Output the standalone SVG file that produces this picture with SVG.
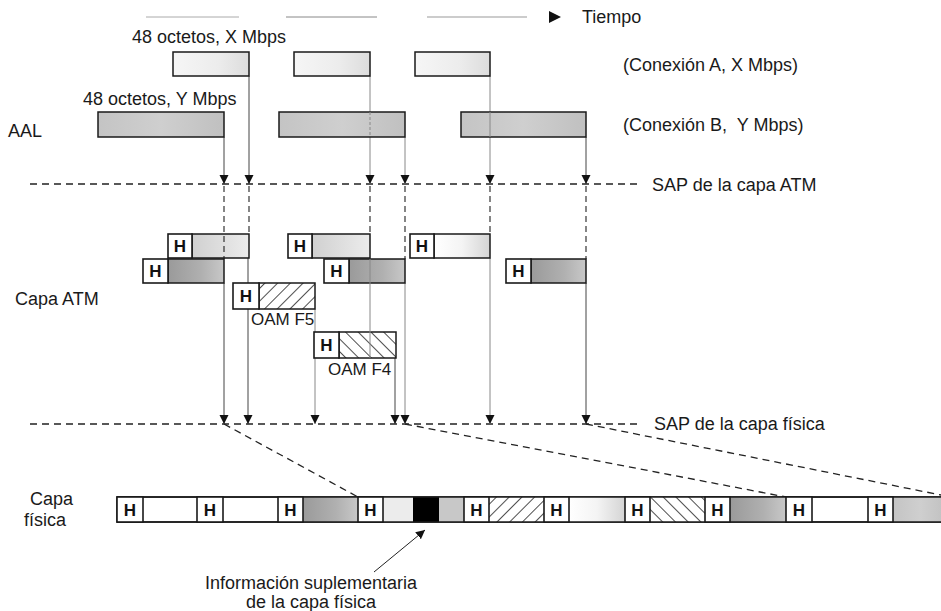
<svg xmlns="http://www.w3.org/2000/svg" width="941" height="611" viewBox="0 0 941 611">
<style>
.t{font-family:"Liberation Sans",Arial,sans-serif;font-size:18px;fill:#1a1a1a}
.h{font-family:"Liberation Sans",Arial,sans-serif;font-size:17px;font-weight:bold;text-anchor:middle;fill:#111}
.b{stroke:#1a1a1a;stroke-width:1.5}
.hb{fill:#fff;stroke:#1a1a1a;stroke-width:1.6}
.v{stroke:#444;stroke-width:1;fill:none}
.vg{stroke:#888;stroke-width:1;fill:none}
.vd{stroke:#222;stroke-width:1.1;stroke-dasharray:6 4;fill:none}
.d{stroke:#222;stroke-width:1.3;stroke-dasharray:7 5;fill:none}
</style>
<defs>
<marker id="ar" markerUnits="userSpaceOnUse" markerWidth="10" markerHeight="10" refX="9" refY="4.5" orient="auto"><path d="M0,0 L9,4.5 L0,9 z" fill="#111"/></marker>
<linearGradient id="gA"><stop offset="0" stop-color="#f6f6f6"/><stop offset="0.6" stop-color="#ececec"/><stop offset="1" stop-color="#dcdcdc"/></linearGradient>
<linearGradient id="gB"><stop offset="0" stop-color="#c4c4c4"/><stop offset="0.5" stop-color="#cfcfcf"/><stop offset="1" stop-color="#c0c0c0"/></linearGradient>
<linearGradient id="gAc"><stop offset="0" stop-color="#d0d0d0"/><stop offset="1" stop-color="#ececec"/></linearGradient>
<linearGradient id="gAw"><stop offset="0" stop-color="#ffffff"/><stop offset="0.5" stop-color="#f4f4f4"/><stop offset="1" stop-color="#d4d4d4"/></linearGradient>
<linearGradient id="gBc"><stop offset="0" stop-color="#9a9a9a"/><stop offset="0.6" stop-color="#b0b0b0"/><stop offset="1" stop-color="#c8c8c8"/></linearGradient>
<pattern id="hf" patternUnits="userSpaceOnUse" width="9" height="9" patternTransform="rotate(45)"><rect width="9" height="9" fill="#fff"/><line x1="0" y1="0" x2="0" y2="9" stroke="#222" stroke-width="1.6"/></pattern>
<pattern id="hr" patternUnits="userSpaceOnUse" width="9" height="9" patternTransform="rotate(-45)"><rect width="9" height="9" fill="#fff"/><line x1="0" y1="0" x2="0" y2="9" stroke="#222" stroke-width="1.6"/></pattern>
</defs>

<g id="time-axis">
<line x1="146" y1="17" x2="239" y2="17" stroke="#aaa" stroke-width="1"/>
<line x1="286" y1="17" x2="377" y2="17" stroke="#888" stroke-width="1"/>
<line x1="427" y1="17" x2="527" y2="17" stroke="#999" stroke-width="1"/>
<path d="M549,11 L561,17 L549,23 z" fill="#111"/>
<text class="t" x="582" y="23">Tiempo</text>
</g>

<g id="labels">
<text class="t" x="132" y="43">48 octetos, X Mbps</text>
<text class="t" x="83" y="105">48 octetos, Y Mbps</text>
<text class="t" x="8" y="137">AAL</text>
<text class="t" x="623" y="71">(Conexión A, X Mbps)</text>
<text class="t" x="623" y="131" xml:space="preserve" style="white-space:pre">(Conexión B,  Y Mbps)</text>
<text class="t" x="652" y="191">SAP de la capa ATM</text>
<text class="t" x="15" y="305">Capa ATM</text>
<text class="t" x="654" y="430">SAP de la capa física</text>
<text class="t" x="30" y="505">Capa</text>
<text class="t" x="24" y="526">física</text>
<text class="t" x="311" y="589" text-anchor="middle">Información suplementaria</text>
<text class="t" x="311" y="608" text-anchor="middle">de la capa física</text>
</g>

<g id="connectors">
<line class="d" x1="30" y1="184" x2="640" y2="184"/>
<line class="d" x1="30" y1="424" x2="640" y2="424"/>
<line class="v" x1="224" y1="137" x2="224" y2="184" marker-end="url(#ar)"/>
<line class="v" x1="249" y1="76" x2="249" y2="184" marker-end="url(#ar)"/>
<line class="vg" x1="370" y1="76" x2="370" y2="184" marker-end="url(#ar)"/>
<line class="vg" x1="405" y1="137" x2="405" y2="184" marker-end="url(#ar)"/>
<line class="vg" x1="490" y1="76" x2="490" y2="184" marker-end="url(#ar)"/>
<line class="v" x1="586" y1="137" x2="586" y2="184" marker-end="url(#ar)"/>
<line class="vd" x1="224" y1="186" x2="224" y2="259"/>
<line class="vd" x1="249" y1="186" x2="249" y2="234"/>
<line class="vd" x1="370" y1="186" x2="370" y2="234"/>
<line class="vd" x1="405" y1="186" x2="405" y2="259"/>
<line class="vd" x1="490" y1="186" x2="490" y2="234"/>
<line class="vd" x1="586" y1="186" x2="586" y2="259"/>
<line class="v" x1="224" y1="283" x2="224" y2="424" marker-end="url(#ar)"/>
<line class="v" x1="248" y1="258" x2="248" y2="424" marker-end="url(#ar)"/>
<line class="vg" x1="315" y1="309" x2="315" y2="424" marker-end="url(#ar)"/>
<line class="v" x1="395" y1="358" x2="395" y2="424" marker-end="url(#ar)"/>
<line class="vg" x1="405" y1="283" x2="405" y2="424" marker-end="url(#ar)"/>
<line class="vg" x1="490" y1="258" x2="490" y2="424" marker-end="url(#ar)"/>
<line class="v" x1="586" y1="283" x2="586" y2="424" marker-end="url(#ar)"/>
<line class="d" x1="224" y1="424" x2="358" y2="497"/>
<line class="d" x1="405" y1="424" x2="786" y2="497"/>
<line class="d" x1="586" y1="424" x2="941" y2="495"/>
<line x1="374" y1="572" x2="425" y2="530" stroke="#222" stroke-width="1" marker-end="url(#ar)"/>
</g>

<g id="aal-a">
<rect class="b" x="173" y="52" width="76" height="24" fill="url(#gA)"/>
<rect class="b" x="294" y="52" width="76" height="24" fill="url(#gA)"/>
<rect class="b" x="415" y="52" width="75" height="24" fill="url(#gA)"/>
</g>
<g id="aal-b">
<rect class="b" x="98" y="112" width="126" height="25" fill="url(#gB)"/>
<rect class="b" x="279" y="112" width="126" height="25" fill="url(#gB)"/>
<rect class="b" x="461" y="112" width="125" height="25" fill="url(#gB)"/>
</g>
<g id="aal-crossings">
<line class="vg" x1="370" y1="112" x2="370" y2="137" stroke-dasharray="3 2"/>
<line class="vg" x1="490" y1="112" x2="490" y2="137"/>
</g>

<g id="atm-cell-a1">
<rect class="b" x="192" y="234" width="57" height="24" fill="url(#gAc)"/>
<rect class="hb" x="168" y="234" width="24" height="24"/><text class="h" x="180" y="252">H</text>
</g>
<g id="atm-cell-a2">
<rect class="b" x="312" y="234" width="58" height="24" fill="url(#gAc)"/>
<rect class="hb" x="288" y="234" width="24" height="24"/><text class="h" x="300" y="252">H</text>
</g>
<g id="atm-cell-a3">
<rect class="b" x="434" y="234" width="56" height="24" fill="url(#gAw)"/>
<rect class="hb" x="410" y="234" width="24" height="24"/><text class="h" x="422" y="252">H</text>
</g>
<g id="atm-cell-b1">
<rect class="b" x="168" y="259" width="56" height="24" fill="url(#gBc)"/>
<rect class="hb" x="143" y="259" width="25" height="24"/><text class="h" x="155.5" y="277">H</text>
</g>
<g id="atm-cell-b2">
<rect class="b" x="349" y="259" width="56" height="24" fill="url(#gBc)"/>
<rect class="hb" x="324" y="259" width="25" height="24"/><text class="h" x="336.5" y="277">H</text>
</g>
<g id="atm-cell-b3">
<rect class="b" x="531" y="259" width="55" height="24" fill="url(#gBc)"/>
<rect class="hb" x="506" y="259" width="25" height="24"/><text class="h" x="518.5" y="277">H</text>
</g>
<line class="vd" x1="224" y1="236" x2="224" y2="258"/>
<g id="oam-f5">
<rect class="b" x="259" y="283" width="56" height="26" fill="url(#hf)"/>
<rect class="hb" x="233" y="283" width="26" height="26"/><text class="h" x="246" y="302">H</text>
<text class="t" x="251" y="325" style="font-size:17px">OAM F5</text>
</g>
<g id="oam-f4">
<rect class="b" x="339" y="332" width="57" height="26" fill="url(#hr)"/>
<rect class="hb" x="314" y="332" width="25" height="26"/><text class="h" x="326.5" y="351">H</text>
<text class="t" x="328" y="375" style="font-size:17px">OAM F4</text>
</g>
<line class="vg" x1="370" y1="259" x2="370" y2="358"/>

<g id="physical-bar">
<rect x="117" y="497" width="830" height="25" fill="#fff" stroke="#1a1a1a" stroke-width="1.5"/>
<rect x="303" y="497" width="55" height="25" fill="url(#gBc)"/>
<rect x="383" y="497" width="30" height="25" fill="#ececec"/>
<rect x="413" y="497" width="26" height="25" fill="#000"/>
<rect x="439" y="497" width="25" height="25" fill="#c8c8c8"/>
<rect x="489" y="497" width="55" height="25" fill="url(#hf)"/>
<rect x="569" y="497" width="56" height="25" fill="url(#gAw)"/>
<rect x="650" y="497" width="55" height="25" fill="url(#hr)"/>
<rect x="730" y="497" width="56" height="25" fill="url(#gBc)"/>
<rect x="893" y="497" width="54" height="25" fill="url(#gB)"/>
<line x1="117" y1="497" x2="941" y2="497" stroke="#1a1a1a" stroke-width="1.5"/>
<line x1="117" y1="522" x2="941" y2="522" stroke="#1a1a1a" stroke-width="1.5"/>
<rect class="hb" x="117" y="497" width="26" height="25"/><text class="h" x="130" y="516">H</text>
<rect class="hb" x="197" y="497" width="26" height="25"/><text class="h" x="210" y="516">H</text>
<rect class="hb" x="278" y="497" width="25" height="25"/><text class="h" x="290.5" y="516">H</text>
<rect class="hb" x="358" y="497" width="25" height="25"/><text class="h" x="370.5" y="516">H</text>
<rect class="hb" x="464" y="497" width="25" height="25"/><text class="h" x="476.5" y="516">H</text>
<rect class="hb" x="544" y="497" width="25" height="25"/><text class="h" x="556.5" y="516">H</text>
<rect class="hb" x="625" y="497" width="25" height="25"/><text class="h" x="637.5" y="516">H</text>
<rect class="hb" x="705" y="497" width="25" height="25"/><text class="h" x="717.5" y="516">H</text>
<rect class="hb" x="786" y="497" width="26" height="25"/><text class="h" x="799" y="516">H</text>
<rect class="hb" x="868" y="497" width="25" height="25"/><text class="h" x="880.5" y="516">H</text>
</g>
</svg>
